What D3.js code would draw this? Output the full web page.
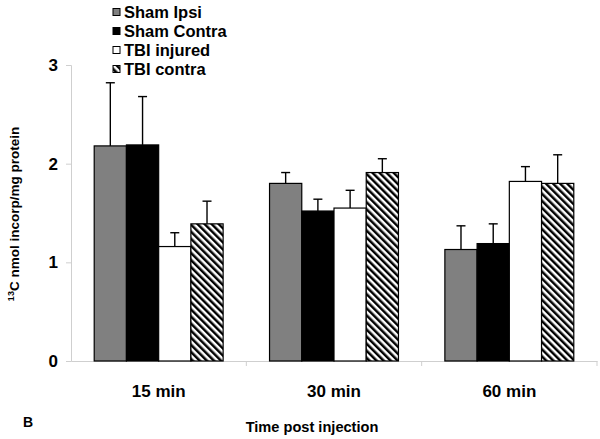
<!DOCTYPE html>
<html>
<head>
<meta charset="utf-8">
<script src="https://cdn.jsdelivr.net/npm/d3@7"></script>
<style>
  html, body { margin: 0; padding: 0; background: #fff; }
  svg { display: block; font-family: "Liberation Sans", Arial, sans-serif; font-weight: bold; }
</style>
</head>
<body>
<svg id="chart" width="600" height="439"></svg>
<script>
const categories = ["15 min", "30 min", "60 min"];
const series = ["Sham Ipsi", "Sham Contra", "TBI injured", "TBI contra"];
const shamIpsi    = [2.18, 1.80, 1.13];
const shamContra  = [2.19, 1.52, 1.19];
const tbiInjured  = [1.16, 1.55, 1.82];
const tbiContra   = [1.39, 1.91, 1.80];
const shamIpsiErr   = [0.64, 0.11, 0.24];
const shamContraErr = [0.49, 0.12, 0.20];
const tbiInjuredErr = [0.14, 0.18, 0.15];
const tbiContraErr  = [0.23, 0.14, 0.29];
const yTicks = [0, 1, 2, 3];

const values = [shamIpsi, shamContra, tbiInjured, tbiContra];
const errors = [shamIpsiErr, shamContraErr, tbiInjuredErr, tbiContraErr];
const fills = ["#808080", "#000000", "#ffffff", "url(#hatch)"];

const svg = d3.select("#chart");
const defs = svg.append("defs");
const pat = defs.append("pattern")
  .attr("id", "hatch")
  .attr("patternUnits", "userSpaceOnUse")
  .attr("width", 5).attr("height", 5)
  .attr("patternTransform", "rotate(-45)");
pat.append("rect").attr("width", 5).attr("height", 5).attr("fill", "#fff");
pat.append("rect").attr("width", 2.5).attr("height", 5).attr("fill", "#000");

const x0 = d3.scaleBand().domain(categories).range([71, 597]).padding(0);
const x1 = d3.scaleBand().domain(series).range([0, x0.bandwidth()]).paddingInner(0).paddingOuter(0.72);
const y = d3.scaleLinear().domain([0, 3]).range([361, 65]);

// y axis
const yAxis = svg.append("g").attr("transform", "translate(71,0)")
  .call(d3.axisLeft(y).tickValues(yTicks).tickSize(5).tickPadding(8).tickFormat(d3.format("d")));
yAxis.select(".domain").attr("stroke", "#cfcfcf");
yAxis.selectAll(".tick line").attr("stroke", "#cfcfcf");
yAxis.selectAll(".tick text").attr("font-size", "17px").attr("font-family", "Liberation Sans, Arial, sans-serif")
  .attr("font-weight", "bold").attr("fill", "#000");

// x axis
const xAxis = svg.append("g").attr("transform", "translate(0,361)")
  .call(d3.axisBottom(x0).tickSize(0).tickPadding(24).tickSizeOuter(0));
xAxis.select(".domain").attr("stroke", "#cfcfcf");
xAxis.selectAll(".tick text").attr("font-size", "17px").attr("font-family", "Liberation Sans, Arial, sans-serif")
  .attr("font-weight", "bold").attr("fill", "#000");
// category separator ticks
svg.append("g").selectAll("line").data(categories.slice(1))
  .join("line")
  .attr("x1", d => x0(d)).attr("x2", d => x0(d))
  .attr("y1", 361).attr("y2", 366)
  .attr("stroke", "#cfcfcf");
svg.append("line").attr("x1", 597).attr("x2", 597).attr("y1", 361).attr("y2", 366).attr("stroke", "#cfcfcf");

// bars
series.forEach((s, si) => {
  const g = svg.append("g");
  g.selectAll("rect").data(categories).join("rect")
    .attr("x", d => x0(d) + x1(s))
    .attr("y", (d, i) => y(values[si][i]))
    .attr("width", x1.bandwidth())
    .attr("height", (d, i) => y(0) - y(values[si][i]))
    .attr("fill", fills[si])
    .attr("stroke", "#000")
    .attr("stroke-width", 1.2);
  // error bars
  const eg = svg.append("g").attr("stroke", "#000").attr("stroke-width", 1.4);
  categories.forEach((c, i) => {
    const cx = x0(c) + x1(s) + x1.bandwidth() / 2;
    const top = y(values[si][i] + errors[si][i]);
    eg.append("line").attr("x1", cx).attr("x2", cx).attr("y1", y(values[si][i])).attr("y2", top);
    eg.append("line").attr("x1", cx - 4.5).attr("x2", cx + 4.5).attr("y1", top).attr("y2", top);
  });
});

// legend
const legend = svg.append("g");
series.forEach((s, i) => {
  const cy = 12 + i * 19;
  legend.append("rect").attr("x", 113).attr("y", cy - 3.5).attr("width", 7).attr("height", 7)
    .attr("fill", fills[i]).attr("stroke", "#000").attr("stroke-width", 1);
  legend.append("text").attr("x", 124).attr("y", cy).attr("dy", "0.36em")
    .attr("font-size", "16.5px").attr("fill", "#000").text(s);
});

// y label
const yl = svg.append("text")
  .attr("transform", "translate(19,214) rotate(-90)")
  .attr("text-anchor", "middle")
  .attr("font-size", "13.5px").attr("fill", "#000");
yl.append("tspan").attr("font-size", "9px").attr("dy", "-5").text("13");
yl.append("tspan").attr("dy", "5").text("C nmol incorp/mg protein");

// x label
svg.append("text").attr("x", 312).attr("y", 432).attr("text-anchor", "middle")
  .attr("font-size", "14.6px").attr("fill", "#000").text("Time post injection");

// panel letter
svg.append("text").attr("x", 23).attr("y", 427)
  .attr("font-size", "14px").attr("fill", "#000").text("B");
</script>
</body>
</html>
